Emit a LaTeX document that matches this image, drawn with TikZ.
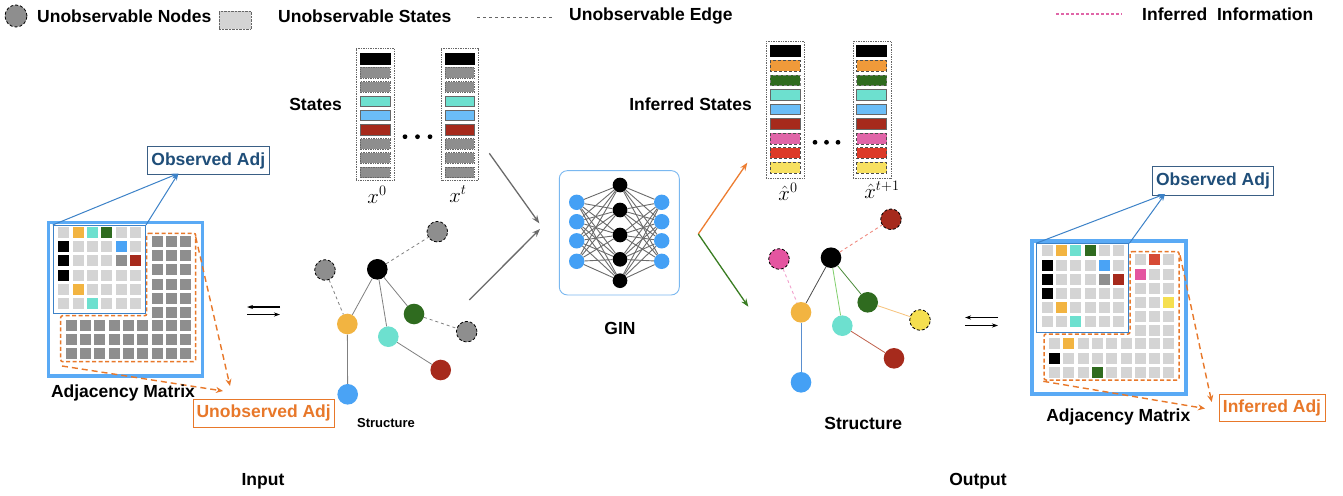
\documentclass[tikz,border=0pt]{standalone}
\usepackage{fontspec}
\setmainfont{Liberation Sans}
\usetikzlibrary{arrows.meta,calc}
\definecolor{cLG}{HTML}{D4D4D4}
\definecolor{cDG}{HTML}{8E8E8E}
\definecolor{cOR}{HTML}{F2B441}
\definecolor{cTE}{HTML}{6DE0CF}
\definecolor{cGR}{HTML}{2F6B1F}
\definecolor{cBL}{HTML}{4AA3F5}
\definecolor{cRD}{HTML}{A62A1C}
\definecolor{cPK}{HTML}{E455A0}
\definecolor{cRR}{HTML}{D64A35}
\definecolor{cYE}{HTML}{F5DF50}
\definecolor{cBK}{HTML}{000000}
\definecolor{mBlue}{HTML}{5AAAF5}
\definecolor{obsBlue}{HTML}{3C82C8}
\definecolor{navy}{HTML}{1F4E79}
\definecolor{navyBox}{HTML}{3A5F85}
\definecolor{adjOr}{HTML}{E8782A}
\definecolor{sOR}{HTML}{F09A3A}
\definecolor{sBL}{HTML}{6BBDF7}
\definecolor{sPK}{HTML}{E066A8}
\definecolor{sRD}{HTML}{DC3A28}
\definecolor{sYE}{HTML}{F7E060}
\definecolor{ginBlue}{HTML}{7AB8F0}
\definecolor{ginNode}{HTML}{44A0F5}
\definecolor{arrGray}{HTML}{6A6A6A}
\definecolor{outOr}{HTML}{ED7D31}
\definecolor{outGr}{HTML}{3A7D22}
\begin{document}
\begin{tikzpicture}[x=1pt,y=-1pt,
  lbl/.style={font=\bfseries\fontsize{17.5}{20}\selectfont, inner sep=0},
  smalllbl/.style={font=\bfseries\fontsize{13}{15}\selectfont, inner sep=0},
  mathlbl/.style={font=\fontsize{20}{24}\selectfont, inner sep=0},
  gnode/.style={circle, inner sep=0, minimum size=20.6},
  unobs/.style={gnode, draw=black, densely dashed, line width=0.8},
  sedge/.style={draw=black!50, line width=0.8},
  dedge/.style={draw=black!50, dashed, line width=0.8},
  outerbox/.style={draw=mBlue, line width=3.5, inner sep=0, anchor=north west, minimum width=154, minimum height=153.3},
  innerbox/.style={draw=obsBlue, line width=1, inner sep=0, anchor=north west, minimum width=92.3, minimum height=88.3},
  obsadj/.style={lbl, draw=navyBox, text=navy, line width=0.9},
  orgadj/.style={lbl, draw=adjOr, text=adjOr, line width=0.9},
  bluearr/.style={obsBlue, line width=1, -{Stealth[length=7pt,width=5pt]}},
  orarr/.style={adjOr, line width=1.4, dash pattern=on 6pt off 4pt, -{Stealth[length=7pt,width=6pt]}},
  orL/.style={adjOr, line width=1.5, dash pattern=on 4pt off 2.5pt, rounded corners=2},
  xarr/.style={black, line width=1.2, -{Stealth[length=6pt,width=4pt]}},
  grarr/.style={arrGray, line width=1.3, -{Stealth[length=8pt,width=6pt]}},
  colbox/.style={draw=black!60, densely dotted, line width=0.7, inner sep=0, anchor=north west},
  bBK/.style={fill=black, draw=black},
  bGY/.style={fill=cDG, draw=black!60, densely dotted},
  bTE/.style={fill=cTE, draw=black!60},
  bBL/.style={fill=sBL, draw=black!60},
  bRD/.style={fill=cRD, draw=black!60},
  bOR/.style={fill=sOR, draw=black!70, densely dashed},
  bGR/.style={fill=cGR, draw=black!50, densely dashed},
  bPK/.style={fill=sPK, draw=black!70, densely dashed},
  bRR/.style={fill=sRD, draw=black!70, densely dashed},
  bYE/.style={fill=sYE, draw=black!70, densely dashed},
  ginB/.style={circle, fill=ginNode, inner sep=0, minimum size=15.4},
  ginK/.style={circle, fill=black, inner sep=0, minimum size=14.7},
  ginE/.style={draw=black!58, line width=0.9}
]
\useasboundingbox (0,0) rectangle (1343,495);
\fill[white] (0,0) rectangle (1343,495);

% ---------------- Legend ----------------
\node[unobs, fill=cDG, minimum size=22] (legN) at (16,16) {};
\node[lbl, anchor=west] (legNt) at (37,16) {Unobservable Nodes};
\node[draw=black!60, densely dotted, fill=cLG, inner sep=0, minimum width=32, minimum height=18] (legS) at (235,20) {};
\node[lbl, anchor=west] (legSt) at (278,16) {Unobservable States};
\coordinate (legE1) at (477,17);
\coordinate (legE2) at (552,17);
\draw[black!60, dashed, line width=0.7] (legE1) -- (legE2);
\node[lbl, anchor=west] (legEt) at (569,16) {Unobservable Edge};
\coordinate (legI1) at (1056,14);
\coordinate (legI2) at (1122,14);
\draw[sPK, dash pattern=on 2.5pt off 2.5pt, line width=1.2] (legI1) -- (legI2);
\node[lbl, anchor=west] (legIt) at (1142,14) {Inferred\ \ Information};

% ---------------- Left adjacency matrix ----------------
\foreach \row [count=\ri from 0] in {{cLG,cOR,cTE,cGR,cLG,cLG},{cBK,cLG,cLG,cLG,cBL,cLG},{cBK,cLG,cLG,cLG,cDG,cRD},{cBK,cLG,cLG,cLG,cLG,cLG},{cLG,cOR,cLG,cLG,cLG,cLG},{cLG,cLG,cTE,cLG,cLG,cLG}}
  \foreach \cc [count=\ci from 0] in \row
    \fill[\cc] ({58.3+14.3*\ci},{227+14.2*\ri}) rectangle ++(11,11);
\foreach \ri in {0,...,5}
  \foreach \ci in {0,1,2}
    \fill[cDG] ({151.5+14.3*\ci},{236+14.2*\ri}) rectangle ++(11,11);
\foreach \ri in {0,1,2}
  \foreach \ci in {0,...,8}
    \fill[cDG] ({65.7+14.3*\ci},{320+14.2*\ri}) rectangle ++(11,11);
\draw[orL] (146.7,233.3) -- (195.7,233.3) -- (195.7,361.7) -- (60.7,361.7) -- (60.7,315.7) -- (146.7,315.7) -- cycle;
\node[innerbox] (LobsIn) at (52.7,225) {};
\node[outerbox] (Lmat) at (46.7,220.7) {};
\node[obsadj, minimum width=122, minimum height=27.6] (LobsAdj) at (208.3,160.5) {Observed Adj};
\coordinate (LobsTip) at (178.3,173.5);
\draw[bluearr] (LobsIn.north west) -- (LobsTip);
\draw[bluearr] (LobsIn.north east) -- (LobsTip);
\node[orgadj, minimum width=140.7, minimum height=28] (LunAdj) at (263.7,413.3) {Unobserved Adj};
\coordinate (LL1) at (195.7,237);
\coordinate (LL2) at (62,366);
\coordinate (LT1) at (230,386);
\coordinate (LT2) at (223,391);
\draw[orarr] (LL1) -- (LT1);
\draw[orarr] (LL2) -- (LT2);
\node[lbl] (LmatLbl) at (123,393) {Adjacency Matrix};

% exchange arrows left
\coordinate (LxA) at (247,307);
\coordinate (LxB) at (280,307);
\coordinate (LxC) at (247,314.5);
\coordinate (LxD) at (280,314.5);
\draw[xarr] (LxB) -- (LxA);
\draw[xarr] (LxC) -- (LxD);

% ---------------- States ----------------
\node[lbl, anchor=east] (StLbl) at (342,104) {States};
\node[colbox, minimum width=38, minimum height=131.7] (X0) at (356,48.3) {};
\node[colbox, minimum width=37, minimum height=131.7] (Xt) at (441.3,48.3) {};
\foreach \st [count=\k from 0] in {bBK,bGY,bGY,bTE,bBL,bRD,bGY,bGY,bGY} {
  \draw[\st, line width=0.7] (360,{53.3+14.2*\k}) rectangle ++(30,10.7);
  \draw[\st, line width=0.7] (445.3,{53.3+14.2*\k}) rectangle ++(29,10.7);
}
\foreach \dx in {405,417.5,430} \fill[black] (\dx,136.7) circle (2.4);
\node[mathlbl] (X0l) at (377,195) {$x^{0}$};
\node[mathlbl] (Xtl) at (458,194) {$x^{t}$};

% ---------------- Inferred states ----------------
\node[lbl, anchor=east] (IStLbl) at (752,104) {Inferred States};
\node[colbox, minimum width=38, minimum height=136.7] (H0) at (766,41) {};
\node[colbox, minimum width=38, minimum height=136.7] (Ht) at (852.7,41) {};
\foreach \st [count=\k from 0] in {bBK,bOR,bGR,bTE,bBL,bRD,bPK,bRR,bYE} {
  \draw[\st, line width=0.7] (770,{45.7+14.575*\k}) rectangle ++(30,10.7);
  \draw[\st, line width=0.7] (856.7,{45.7+14.575*\k}) rectangle ++(30,10.7);
}
\foreach \dx in {815,826.5,838} \fill[black] (\dx,142.3) circle (2.4);
\node[mathlbl] (H0l) at (788,192) {$\hat{x}^{0}$};
\node[mathlbl] (Htl) at (882,190) {$\hat{x}^{t+1}$};

% ---------------- Left structure ----------------
\node[unobs, fill=cDG] (LtopG) at (437.3,231.7) {};
\node[unobs, fill=cDG] (LleftG) at (325,270) {};
\node[gnode, fill=black] (Lblk) at (377.3,269.3) {};
\node[gnode, fill=cOR] (Lor) at (347.3,324) {};
\node[gnode, fill=cTE] (Lte) at (388.3,336.7) {};
\node[gnode, fill=cGR] (Lgr) at (414,314) {};
\node[unobs, fill=cDG] (LrG) at (466.7,331.7) {};
\node[gnode, fill=cRD] (Lrd) at (440.7,370) {};
\node[gnode, fill=cBL] (Lbl) at (347.7,394.3) {};
\draw[dedge] (Lblk) -- (LtopG);
\draw[dedge] (LleftG) -- (Lor);
\draw[sedge] (Lblk) -- (Lor);
\draw[sedge] (Lblk) -- (Lte);
\draw[sedge] (Lblk) -- (Lgr);
\draw[dedge] (Lgr) -- (LrG);
\draw[sedge] (Lte) -- (Lrd);
\draw[sedge] (Lor) -- (Lbl);
\node[smalllbl] (LstrLbl) at (386,422.7) {Structure};

% ---------------- GIN ----------------
\node[draw=ginBlue, rounded corners=8, line width=0.9, inner sep=0, minimum width=120, minimum height=124.3] (GIN) at (619.3,232.8) {};
\foreach \y [count=\n] in {202.3,221.7,240.8,261.3} {
  \node[ginB] (gi\n) at (576.7,\y) {};
  \node[ginB] (go\n) at (661.7,\y) {};
}
\foreach \y [count=\n] in {185,210,235,259.3,280.7}
  \node[ginK] (gh\n) at (620,\y) {};
\foreach \a in {1,...,4}
  \foreach \b in {1,...,5} {
    \draw[ginE] (gi\a) -- (gh\b);
    \draw[ginE] (gh\b) -- (go\a);
  }
\node[lbl] (GINl) at (620,328.3) {GIN};

\coordinate (inA) at (489.3,153.3);
\coordinate (inAt) at (539.3,223.3);
\coordinate (inB) at (469.3,300);
\coordinate (inBt) at (540,229);
\draw[grarr] (inA) -- (inAt);
\draw[grarr] (inB) -- (inBt);
\coordinate (outS) at (698.3,234);
\coordinate (outA) at (747.3,162.7);
\coordinate (outB) at (748.3,306.7);
\draw[outOr, line width=1.3, -{Stealth[length=8pt,width=6pt]}] (outS) -- (outA);
\draw[outGr, line width=1.3, -{Stealth[length=8pt,width=6pt]}] (outS) -- (outB);

% ---------------- Right structure ----------------
\node[unobs, fill=cRD] (RtopR) at (891,219.3) {};
\node[unobs, fill=cPK] (Rpk) at (779,259) {};
\node[gnode, fill=black] (Rblk) at (831,257.7) {};
\node[gnode, fill=cOR] (Ror) at (801,312.3) {};
\node[gnode, fill=cTE] (Rte) at (842.3,325.7) {};
\node[gnode, fill=cGR] (Rgr) at (867.7,302.3) {};
\node[unobs, fill=cYE] (Rye) at (920,320) {};
\node[gnode, fill=cRD] (Rrd) at (894,358.3) {};
\node[gnode, fill=ginNode] (Rbl) at (801,382.3) {};
\draw[draw={rgb,255:red,240;green,138;blue,128}, dashed, line width=0.9] (Rblk) -- (RtopR);
\draw[draw={rgb,255:red,242;green,160;blue,204}, dashed, line width=0.9] (Rpk) -- (Ror);
\draw[draw=black!70, line width=0.8] (Rblk) -- (Ror);
\draw[draw={rgb,255:red,127;green,207;blue,106}, line width=0.8] (Rblk) -- (Rte);
\draw[draw={rgb,255:red,74;green,138;blue,58}, line width=0.8] (Rblk) -- (Rgr);
\draw[draw={rgb,255:red,247;green,194;blue,122}, line width=0.8] (Rgr) -- (Rye);
\draw[draw={rgb,255:red,192;green,96;blue,74}, line width=0.8] (Rte) -- (Rrd);
\draw[draw={rgb,255:red,90;green,143;blue,207}, line width=0.8] (Ror) -- (Rbl);
\node[lbl] (RstrLbl) at (863.3,423.3) {Structure};

% exchange arrows right
\coordinate (RxA) at (965,317.5);
\coordinate (RxB) at (998,317.5);
\coordinate (RxC) at (965,325.5);
\coordinate (RxD) at (998,325.5);
\draw[xarr] (RxB) -- (RxA);
\draw[xarr] (RxC) -- (RxD);

% ---------------- Right adjacency matrix ----------------
\begin{scope}[shift={(983.3,18.3)}]
\foreach \row [count=\ri from 0] in {{cLG,cOR,cTE,cGR,cLG,cLG},{cBK,cLG,cLG,cLG,cBL,cLG},{cBK,cLG,cLG,cLG,cDG,cRD},{cBK,cLG,cLG,cLG,cLG,cLG},{cLG,cOR,cLG,cLG,cLG,cLG},{cLG,cLG,cTE,cLG,cLG,cLG}}
  \foreach \cc [count=\ci from 0] in \row
    \fill[\cc] ({58.3+14.3*\ci},{227+14.2*\ri}) rectangle ++(11,11);
\foreach \row [count=\ri from 0] in {{cLG,cRR,cLG},{cPK,cLG,cLG},{cLG,cLG,cLG},{cLG,cLG,cYE},{cLG,cLG,cLG},{cLG,cLG,cLG}}
  \foreach \cc [count=\ci from 0] in \row
    \fill[\cc] ({151.5+14.3*\ci},{236+14.2*\ri}) rectangle ++(11,11);
\foreach \row [count=\ri from 0] in {{cLG,cOR,cLG,cLG,cLG,cLG,cLG,cLG,cLG},{cBK,cLG,cLG,cLG,cLG,cLG,cLG,cLG,cLG},{cLG,cLG,cLG,cGR,cLG,cLG,cLG,cLG,cLG}}
  \foreach \cc [count=\ci from 0] in \row
    \fill[\cc] ({65.7+14.3*\ci},{320+14.2*\ri}) rectangle ++(11,11);
\draw[orL] (146.7,233.3) -- (195.7,233.3) -- (195.7,361.7) -- (60.7,361.7) -- (60.7,315.7) -- (146.7,315.7) -- cycle;
\node[innerbox] (RobsIn) at (52.7,225) {};
\node[outerbox] (Rmat) at (46.7,220.7) {};
\coordinate (RL1) at (196.7,237);
\coordinate (RL2) at (60,363);
\end{scope}
\node[obsadj, minimum width=120.6, minimum height=29] (RobsAdj) at (1213,180.5) {Observed Adj};
\coordinate (RobsTip) at (1165,194);
\draw[bluearr] (RobsIn.north west) -- (RobsTip);
\draw[bluearr] (RobsIn.north east) -- (RobsTip);
\node[orgadj, minimum width=106, minimum height=27.4] (RinfAdj) at (1272,408) {Inferred Adj};
\coordinate (RT1) at (1211.7,402);
\coordinate (RT2) at (1205,408.5);
\draw[orarr] (RL1) -- (RT1);
\draw[orarr] (RL2) -- (RT2);
\node[lbl] (RmatLbl) at (1118.3,416.7) {Adjacency Matrix};

% ---------------- Input / Output ----------------
\node[lbl] (InLbl) at (263,481) {Input};
\node[lbl] (OutLbl) at (978,481) {Output};
\end{tikzpicture}
\end{document}
